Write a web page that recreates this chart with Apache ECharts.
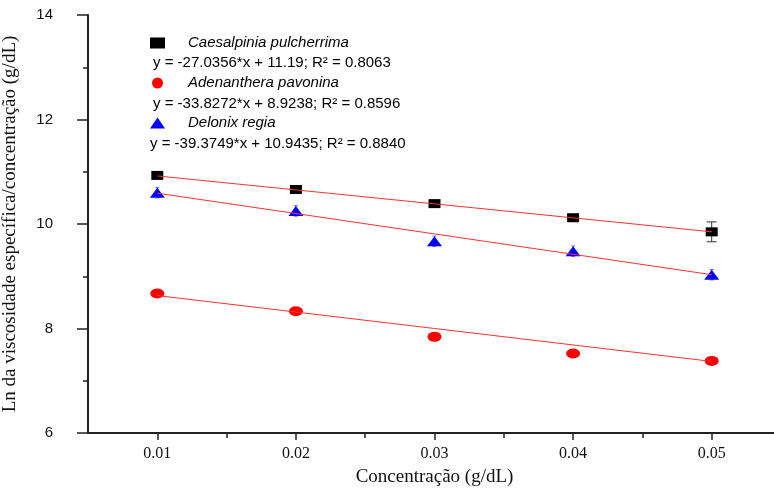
<!DOCTYPE html>
<html>
<head>
<meta charset="utf-8">
<style>
  html, body { margin: 0; padding: 0; background: #fff; }
  #chart { width: 774px; height: 492px; }
</style>
<script src="https://cdn.jsdelivr.net/npm/echarts@6/dist/echarts.min.js"></script>
</head>
<body>
<div id="chart"></div>
<script>
// concentrations (g/dL)
var conc = [0.01, 0.02, 0.03, 0.04, 0.05]
// Ln(viscosidade especifica / concentracao)
var caesalpinia = [10.93, 10.66, 10.39, 10.12, 9.85]
var adenanthera = [8.67, 8.33, 7.84, 7.52, 7.38]
var delonix = [10.60, 10.25, 9.67, 9.48, 9.03]
// error bars (+/-)
var caesalpiniaErr = [0.04, 0.04, 0.04, 0.04, 0.19]
var delonixErr = [0.1, 0.1, 0.1, 0.1, 0.1]
// fitted lines, end points
var fitX = [0.01, 0.05]
var fitCaesalpinia = [10.92, 9.85]
var fitAdenanthera = [8.63, 7.37]
var fitDelonix = [10.59, 9.03]
// axis ticks
var xMajorTicks = [0.01, 0.02, 0.03, 0.04, 0.05]
var xMinorTicks = [0.015, 0.025, 0.035, 0.045]
var equations = [
  'y = -27.0356*x + 11.19; R² = 0.8063',
  'y = -33.8272*x + 8.9238; R² = 0.8596',
  'y = -39.3749*x + 10.9435; R² = 0.8840'
]

function pairs(xs, ys) {
  return xs.map(function (x, i) { return [x, ys[i]] })
}
function errPairs(xs, ys, es) {
  return xs.map(function (x, i) { return [x, ys[i] - es[i], ys[i] + es[i]] })
}
function errorBar(color, cap) {
  return function (params, api) {
    var lo = api.coord([api.value(0), api.value(1)])
    var hi = api.coord([api.value(0), api.value(2)])
    var st = { stroke: color, lineWidth: 1 }
    return {
      type: 'group',
      children: [
        { type: 'line', shape: { x1: lo[0], y1: lo[1], x2: hi[0], y2: hi[1] }, style: st },
        { type: 'line', shape: { x1: lo[0] - cap, y1: lo[1], x2: lo[0] + cap, y2: lo[1] }, style: st },
        { type: 'line', shape: { x1: hi[0] - cap, y1: hi[1], x2: hi[0] + cap, y2: hi[1] }, style: st }
      ]
    }
  }
}

var chart = echarts.init(document.getElementById('chart'))
var sans = '"Liberation Sans", Arial, sans-serif'
var serif = '"Liberation Serif", "Times New Roman", serif'

chart.setOption({
  animation: false,
  backgroundColor: '#fff',
  grid: { left: 88, top: 15, width: 693, height: 418, outerBoundsMode: 'none', containLabel: false },
  legend: {
    orient: 'vertical',
    left: 145,
    top: 30,
    itemWidth: 15,
    itemHeight: 11,
    itemGap: 24,
    selectedMode: false,
    textStyle: {
      fontFamily: sans,
      fontStyle: 'italic',
      fontSize: 15,
      lineHeight: 16,
      color: '#000',
      padding: [0, 0, 0, 18]
    },
    data: [
      { name: 'Caesalpinia pulcherrima', icon: 'rect' },
      { name: 'Adenanthera pavonina', icon: 'circle' },
      { name: 'Delonix regia', icon: 'triangle' }
    ]
  },
  graphic: equations.map(function (t, i) {
    return {
      type: 'text',
      x: i === 2 ? 150 : 153,
      y: 63 + i * 40.5,
      style: {
        text: t,
        font: '15px ' + sans,
        fill: '#000',
        verticalAlign: 'middle'
      }
    }
  }),
  xAxis: [
    {
      type: 'value',
      min: 0.005,
      max: 0.055,
      splitLine: { show: false },
      axisLine: { show: true, onZero: false, lineStyle: { color: '#222', width: 2 } },
      axisTick: { show: true, length: 7, customValues: xMajorTicks, lineStyle: { color: '#222', width: 1.5 } },
      axisLabel: {
        customValues: xMajorTicks,
        margin: 13,
        fontFamily: serif,
        fontSize: 16,
        color: '#111',
        formatter: function (v) { return v.toFixed(2) }
      },
      name: 'Concentração (g/dL)',
      nameLocation: 'middle',
      nameGap: 35,
      nameTextStyle: { fontFamily: serif, fontSize: 19, color: '#111' }
    },
    {
      type: 'value',
      min: 0.005,
      max: 0.055,
      position: 'bottom',
      splitLine: { show: false },
      axisLine: { show: false },
      axisTick: { show: true, length: 5, customValues: xMinorTicks, lineStyle: { color: '#222', width: 1.5 } },
      axisLabel: { show: false }
    }
  ],
  yAxis: {
    type: 'value',
    min: 6,
    max: 14,
    interval: 2,
    splitLine: { show: false },
    axisLine: { show: true, lineStyle: { color: '#222', width: 2 } },
    axisTick: { show: true, length: 11, lineStyle: { color: '#222', width: 1.5 } },
    minorTick: { show: true, splitNumber: 2, length: 5, lineStyle: { color: '#222', width: 1.5 } },
    axisLabel: { margin: 35, fontFamily: sans, fontSize: 15, color: '#111' },
    name: 'Ln da viscosidade específica/concentração (g/dL)',
    nameLocation: 'middle',
    nameGap: 68,
    nameTextStyle: { fontFamily: serif, fontSize: 19, color: '#111' }
  },
  series: [
    {
      type: 'custom',
      renderItem: errorBar('#333', 5),
      data: errPairs(conc, caesalpinia, caesalpiniaErr),
      z: 1,
      silent: true
    },
    {
      type: 'custom',
      renderItem: errorBar('#6a6aff', 2),
      data: errPairs(conc, delonix, delonixErr),
      z: 1,
      silent: true
    },
    {
      name: 'Caesalpinia pulcherrima',
      type: 'scatter',
      symbol: 'rect',
      symbolSize: [12, 9],
      itemStyle: { color: '#000', opacity: 1 },
      data: pairs(conc, caesalpinia),
      z: 2
    },
    {
      name: 'Adenanthera pavonina',
      type: 'scatter',
      symbol: 'circle',
      symbolSize: [14, 10],
      itemStyle: { color: '#ff0000', opacity: 1 },
      data: pairs(conc, adenanthera),
      z: 2
    },
    {
      name: 'Delonix regia',
      type: 'scatter',
      symbol: 'triangle',
      symbolSize: [15, 10],
      itemStyle: { color: '#0000ff', opacity: 1 },
      data: pairs(conc, delonix),
      z: 2
    },
    {
      type: 'line',
      data: pairs(fitX, fitCaesalpinia),
      showSymbol: false,
      lineStyle: { color: '#ff3030', width: 1 },
      z: 3,
      silent: true
    },
    {
      type: 'line',
      data: pairs(fitX, fitAdenanthera),
      showSymbol: false,
      lineStyle: { color: '#ff3030', width: 1 },
      z: 3,
      silent: true
    },
    {
      type: 'line',
      data: pairs(fitX, fitDelonix),
      showSymbol: false,
      lineStyle: { color: '#ff3030', width: 1 },
      z: 3,
      silent: true
    }
  ]
})
</script>
</body>
</html>
